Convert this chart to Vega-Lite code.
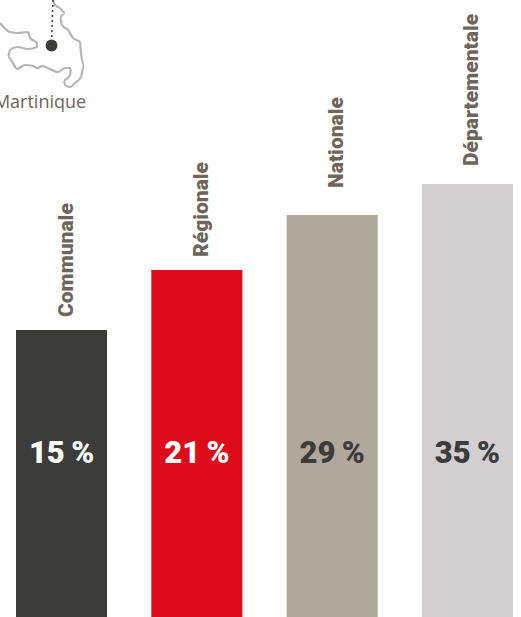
{
  "$schema": "https://vega.github.io/schema/vega-lite/v6.json",
  "width": 521,
  "height": 617,
  "autosize": "none",
  "padding": 0,
  "background": "white",
  "view": {"stroke": null},
  "datasets": {
    "levels": [
      {"niveau": "Communale", "part": 15, "etiquette": "15\u2009%", "clair": false},
      {"niveau": "Régionale", "part": 21, "etiquette": "21\u2009%", "clair": false},
      {"niveau": "Nationale", "part": 29, "etiquette": "29\u2009%", "clair": true},
      {"niveau": "Départementale", "part": 35, "etiquette": "35\u2009%", "clair": true}
    ],
    "outline": [
      {"o": 1, "e": 0, "n": 23}, {"o": 2, "e": 10, "n": 32}, {"o": 3, "e": 18, "n": 33}, {"o": 4, "e": 28, "n": 32},
      {"o": 5, "e": 30, "n": 38}, {"o": 6, "e": 37, "n": 43}, {"o": 7, "e": 37, "n": 47}, {"o": 8, "e": 28, "n": 49},
      {"o": 9, "e": 17, "n": 47}, {"o": 10, "e": 10, "n": 50}, {"o": 11, "e": 8, "n": 57}, {"o": 12, "e": 13, "n": 63},
      {"o": 13, "e": 17, "n": 69}, {"o": 14, "e": 25, "n": 65}, {"o": 15, "e": 33, "n": 66}, {"o": 16, "e": 38, "n": 68},
      {"o": 17, "e": 42, "n": 66}, {"o": 18, "e": 50, "n": 69}, {"o": 19, "e": 58, "n": 72}, {"o": 20, "e": 65, "n": 68},
      {"o": 21, "e": 71, "n": 68}, {"o": 22, "e": 70, "n": 75}, {"o": 23, "e": 64, "n": 80}, {"o": 24, "e": 65, "n": 85},
      {"o": 25, "e": 70, "n": 87}, {"o": 26, "e": 75, "n": 83}, {"o": 27, "e": 81, "n": 77}, {"o": 28, "e": 84, "n": 65},
      {"o": 29, "e": 81, "n": 53}, {"o": 30, "e": 80, "n": 42}, {"o": 31, "e": 73, "n": 38}, {"o": 32, "e": 68, "n": 30},
      {"o": 33, "e": 62, "n": 25}, {"o": 34, "e": 60, "n": 17}, {"o": 35, "e": 65, "n": 13}, {"o": 36, "e": 60, "n": 8},
      {"o": 37, "e": 55, "n": 5}, {"o": 38, "e": 53, "n": 0}
    ],
    "leader": [
      {"o": 1, "e": 53, "n": 0},
      {"o": 2, "e": 51.5, "n": 45}
    ],
    "capital": [
      {"e": 51.5, "n": 45.5}
    ],
    "place": [
      {"e": 40, "n": 103, "nom": "Martinique"}
    ]
  },
  "layer": [
    {
      "data": {"name": "levels"},
      "encoding": {
        "x": {
          "field": "niveau",
          "type": "nominal",
          "sort": null,
          "axis": null,
          "scale": {"range": [16, 513], "paddingInner": 0.327, "paddingOuter": 0}
        },
        "y": {
          "field": "part",
          "type": "quantitative",
          "axis": null,
          "scale": {"domain": [0, 15, 21, 29, 35], "range": [617, 330, 270, 215, 184], "zero": false, "nice": false}
        }
      },
      "layer": [
        {
          "mark": {"type": "bar"},
          "encoding": {
            "color": {
              "field": "niveau",
              "type": "nominal",
              "legend": null,
              "scale": {
                "domain": ["Communale", "Régionale", "Nationale", "Départementale"],
                "range": ["#3c3c3b", "#dc0c1b", "#b0a89d", "#d1cfd0"]
              }
            }
          }
        },
        {
          "transform": [{"filter": "datum.part < 29"}],
          "mark": {"type": "text", "angle": 270, "align": "left", "baseline": "middle", "dx": 13, "dy": 5, "font": "Roboto", "fontWeight": 900, "fontSize": 21, "color": "#6e665a"},
          "encoding": {"text": {"field": "niveau"}}
        },
        {
          "transform": [{"filter": "datum.part == 29"}],
          "mark": {"type": "text", "angle": 270, "align": "left", "baseline": "middle", "dx": 27, "dy": 5, "font": "Roboto", "fontWeight": 900, "fontSize": 21, "color": "#6e665a"},
          "encoding": {"text": {"field": "niveau"}}
        },
        {
          "transform": [{"filter": "datum.part == 35"}],
          "mark": {"type": "text", "angle": 270, "align": "left", "baseline": "middle", "dx": 18, "dy": 5, "font": "Roboto", "fontWeight": 900, "fontSize": 21, "color": "#6e665a"},
          "encoding": {"text": {"field": "niveau"}}
        },
        {
          "mark": {"type": "text", "font": "Roboto", "fontWeight": 900, "fontSize": 31, "baseline": "middle", "align": "center"},
          "encoding": {
            "y": {"datum": 8.5, "type": "quantitative"},
            "text": {"field": "etiquette"},
            "color": {"condition": {"test": "datum.clair", "value": "#3c3c3b"}, "value": "#ffffff"}
          }
        }
      ]
    },
    {
      "encoding": {
        "x": {"field": "e", "type": "quantitative", "axis": null, "scale": {"domain": [0, 521], "range": [0, 521], "nice": false, "zero": false}},
        "y": {"field": "n", "type": "quantitative", "axis": null, "scale": {"domain": [0, 617], "range": [0, 617], "nice": false, "zero": false}}
      },
      "layer": [
        {
          "data": {"name": "outline"},
          "mark": {"type": "line", "stroke": "#b5b5b3", "strokeWidth": 2.2, "interpolate": "monotone", "clip": true},
          "encoding": {"order": {"field": "o", "type": "quantitative"}}
        },
        {
          "data": {"name": "leader"},
          "mark": {"type": "line", "stroke": "#3c3c3b", "strokeWidth": 1.5, "strokeDash": [2, 3], "clip": true},
          "encoding": {"order": {"field": "o", "type": "quantitative"}}
        },
        {
          "data": {"name": "capital"},
          "mark": {"type": "point", "filled": true, "size": 140, "color": "#3c3c3b", "opacity": 1}
        },
        {
          "data": {"name": "place"},
          "mark": {"type": "text", "font": "Open Sans", "fontSize": 18, "color": "#6e665a", "align": "center", "baseline": "middle"},
          "encoding": {"text": {"field": "nom"}}
        }
      ]
    }
  ],
  "resolve": {"scale": {"x": "independent", "y": "independent", "color": "independent"}}
}
